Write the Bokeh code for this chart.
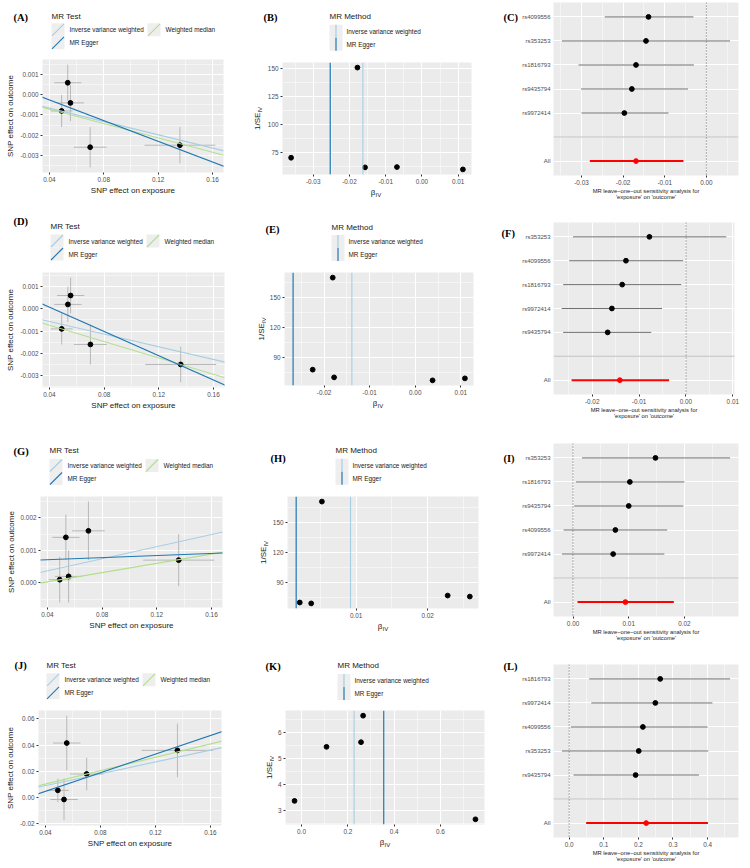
from math import pi

from bokeh.core.properties import value
from bokeh.embed import file_html
from bokeh.layouts import column, row
from bokeh.models import FixedTicker, PrintfTickFormatter, Range1d, Slope, Span
from bokeh.plotting import figure
from bokeh.resources import INLINE

SANS = "Liberation Sans"
SERIF = "Liberation Serif"
IVW_COLOR = "#A6CEE3"
EGGER_COLOR = "#1F78B4"
WM_COLOR = "#B2DF8A"
PANEL_BG = "#EBEBEB"
KEY_BG = "#EEEEEE"
TICK_TEXT = "#4D4D4D"
TITLE_TEXT = "#1A1A1A"
CELL_W = 250
ROW_H = [214, 226, 220, 208]

# ---------------------------------------------------------------- data
# SNP effects on the exposure (shared by all four outcomes)
exposure_beta = [0.049, 0.0535, 0.0555, 0.070, 0.136]
exposure_se = [0.0080, 0.0100, 0.0100, 0.0120, 0.0260]

# Scatter plots: SNP effects on each outcome and fitted MR lines
outcome_A = [-0.0008, 0.0006, -0.0004, -0.0026, -0.0025]
outcome_se_A = [0.0008, 0.0009, 0.0009, 0.0010, 0.0009]
ivw_A, egger_slope_A, egger_icpt_A, wm_slope_A, wm_icpt_A = -0.0165, -0.0257, 0.00078, -0.0178, 0.0

outcome_D = [-0.0009, 0.0002, 0.0006, -0.0016, -0.0025]
outcome_se_D = [0.0007, 0.0008, 0.0008, 0.0009, 0.0008]
ivw_D, egger_slope_D, egger_icpt_D, wm_slope_D, wm_icpt_D = -0.0142, -0.0273, 0.00117, -0.0184, 0.0

outcome_G = [0.0001, 0.0014, 0.0002, 0.0016, 0.0007]
outcome_se_G = [0.0007, 0.0007, 0.0008, 0.0009, 0.0008]
ivw_G, egger_slope_G, egger_icpt_G, wm_slope_G, wm_icpt_G = 0.0093, 0.0016, 0.00065, 0.0071, -0.00025

outcome_J = [0.0054, -0.0016, 0.0416, 0.0179, 0.0360]
outcome_se_J = [0.0090, 0.0159, 0.0209, 0.0125, 0.0205]
ivw_J, egger_slope_J, egger_icpt_J, wm_slope_J, wm_icpt_J = 0.226, 0.356, -0.0096, 0.256, 0.0

# Funnel plots: per-SNP Wald ratio and its precision
beta_iv_B = [-0.0361, -0.0178, -0.0157, -0.0069, 0.0113]
inv_se_B = [70.0, 150.5, 61.4, 61.7, 59.6]
ivw_B, egger_B = -0.0163, -0.0253

beta_iv_E = [-0.0225, -0.0181, -0.0178, 0.0038, 0.0109]
inv_se_E = [78.0, 170.0, 70.3, 67.3, 69.3]
ivw_E, egger_E = -0.0139, -0.0268

beta_iv_H = [0.0021, 0.0037, 0.0052, 0.0228, 0.0259]
inv_se_H = [70.4, 69.5, 170.7, 77.3, 76.3]
ivw_H, egger_H = 0.0092, 0.0016

beta_iv_K = [-0.030, 0.108, 0.257, 0.266, 0.751]
inv_se_K = [3.36, 5.44, 5.62, 6.64, 2.65]
ivw_K, egger_K = 0.227, 0.355

# Leave-one-out analyses (top to bottom)
loo_snp_C = ["rs4099556", "rs353253", "rs1816793", "rs9435794", "rs9972414"]
loo_b_C = [-0.0139, -0.0145, -0.0169, -0.0179, -0.0197]
loo_lo_C = [-0.0244, -0.0347, -0.0307, -0.0301, -0.0300]
loo_hi_C = [-0.0031, 0.0057, -0.0030, -0.0044, -0.0091]
all_C = (-0.0169, -0.0280, -0.0055)

loo_snp_F = ["rs353253", "rs4099556", "rs1816793", "rs9972414", "rs9435794"]
loo_b_F = [-0.0078, -0.0128, -0.0136, -0.0158, -0.0167]
loo_lo_F = [-0.0241, -0.0249, -0.0262, -0.0265, -0.0262]
loo_hi_F = [0.0086, -0.0006, -0.0010, -0.0051, -0.0074]
all_F = (-0.0141, -0.0244, -0.0036)

loo_snp_I = ["rs353253", "rs1816793", "rs9435794", "rs4099556", "rs9972414"]
loo_b_I = [0.0148, 0.0102, 0.0100, 0.0076, 0.0072]
loo_lo_I = [0.0016, 0.0005, 0.0002, -0.0017, -0.0020]
loo_hi_I = [0.0282, 0.0200, 0.0198, 0.0169, 0.0164]
all_I = (0.0094, 0.0008, 0.0181)

loo_snp_L = ["rs1816793", "rs9972414", "rs4099556", "rs353253", "rs9435794"]
loo_b_L = [0.263, 0.249, 0.213, 0.201, 0.192]
loo_lo_L = [0.058, 0.064, 0.005, -0.021, 0.0125]
loo_hi_L = [0.465, 0.414, 0.400, 0.402, 0.375]
all_L = (0.2225, 0.049, 0.401)

# Axis breaks
scatter_x_ticks = [0.04, 0.08, 0.12, 0.16]
scatter_x_minor = [0.06, 0.10, 0.14]
y_ticks_A = [-0.003, -0.002, -0.001, 0.0, 0.001]
y_minor_A = [-0.0035, -0.0025, -0.0015, -0.0005, 0.0005, 0.0015]
y_ticks_G = [0.0, 0.001, 0.002]
y_minor_G = [-0.0005, 0.0005, 0.0015, 0.0025]
y_ticks_J = [-0.02, 0.0, 0.02, 0.04, 0.06]
y_minor_J = [-0.01, 0.01, 0.03, 0.05]

x_ticks_B = [-0.03, -0.02, -0.01, 0.0, 0.01]
x_minor_B = [-0.035, -0.025, -0.015, -0.005, 0.005]
y_ticks_B = [75, 100, 125, 150]
y_minor_B = [62.5, 87.5, 112.5, 137.5]
x_ticks_E = [-0.02, -0.01, 0.0, 0.01]
x_minor_E = [-0.025, -0.015, -0.005, 0.005]
y_ticks_E = [90, 120, 150]
y_minor_E = [75, 105, 135, 165]
x_ticks_H = [0.01, 0.02]
x_minor_H = [0.005, 0.015, 0.025]
x_ticks_K = [0.0, 0.2, 0.4, 0.6]
x_minor_K = [0.1, 0.3, 0.5, 0.7]
y_ticks_K = [3, 4, 5, 6]
y_minor_K = [2.5, 3.5, 4.5, 5.5, 6.5]

x_ticks_C = [-0.03, -0.02, -0.01, 0.0]
x_minor_C = [-0.035, -0.025, -0.015, -0.005, 0.005]
x_ticks_F = [-0.02, -0.01, 0.0, 0.01]
x_minor_F = [-0.025, -0.015, -0.005, 0.005]
x_ticks_I = [0.0, 0.01, 0.02]
x_minor_I = [0.005, 0.015, 0.025]
x_ticks_L = [0.0, 0.1, 0.2, 0.3, 0.4]
x_minor_L = [0.05, 0.15, 0.25, 0.35, 0.45]

MR_TEST_LABELS = ["Inverse variance weighted", "MR Egger", "Weighted median"]
LOO_TITLE = "MR leave\u2212one\u2212out sensitivity analysis for\n'exposure' on 'outcome'"


# ---------------------------------------------------------------- helpers
def expand(lo, hi, mult=0.05):
    span = hi - lo
    return lo - mult * span, hi + mult * span


def make_fig(width, height, frame, x_range, y_range):
    left, top, right, bottom = frame
    p = figure(width=width, height=height, x_range=x_range, y_range=y_range,
               output_backend="svg", toolbar_location=None,
               min_border_left=left, min_border_right=width - right,
               min_border_top=top, min_border_bottom=height - bottom)
    p.background_fill_color = PANEL_BG
    p.border_fill_color = "white"
    p.outline_line_color = None
    return p


def style_axes(p, xt, xm, xfmt, yt, ym, yfmt):
    p.xaxis.ticker = FixedTicker(ticks=xt, minor_ticks=xm)
    p.yaxis.ticker = FixedTicker(ticks=yt, minor_ticks=ym)
    p.xaxis.formatter = PrintfTickFormatter(format=xfmt)
    if yfmt is not None:
        p.yaxis.formatter = PrintfTickFormatter(format=yfmt)
    for ax in p.axis:
        ax.axis_line_color = None
        ax.major_tick_line_color = "#333333"
        ax.major_tick_out = 2
        ax.major_tick_in = 0
        ax.minor_tick_out = 0
        ax.minor_tick_in = 0
        ax.major_label_text_font = SANS
        ax.major_label_text_font_size = "6.4px"
        ax.major_label_text_color = TICK_TEXT
        ax.major_label_standoff = 2
        ax.axis_label_text_font = SANS
        ax.axis_label_text_font_size = "8px"
        ax.axis_label_text_font_style = "normal"
        ax.axis_label_text_color = TITLE_TEXT
        ax.axis_label_standoff = 2
    for g in p.grid:
        g.grid_line_color = "white"
        g.grid_line_width = 1
        g.minor_grid_line_color = "white"
        g.minor_grid_line_width = 0.5


def blank_fig(width, height, y_down=True):
    """A plain white strip used for titles, keys and panel tags (pixel coordinates)."""
    yr = Range1d(height, 0) if y_down else Range1d(0, height)
    p = figure(width=width, height=height, x_range=Range1d(0, width), y_range=yr,
               output_backend="svg", toolbar_location=None, min_border=0,
               x_axis_type=None, y_axis_type=None)
    p.outline_line_color = None
    p.background_fill_color = "white"
    p.border_fill_color = "white"
    return p


def put_text(p, x, y, text, size, font=SANS, style="normal", angle=0.0, color=TITLE_TEXT):
    p.text(x=[x], y=[y], text=[text], text_font=value(font), text_font_style=style,
           text_font_size=value(size), text_color=color, angle=angle,
           text_baseline="middle", text_align="left")


def legend_fig(height, tag, tag_x, tag_y, title, left, title_y, entries, kind, text_dx):
    p = blank_fig(CELL_W, height)
    kx = [e[0] for e in entries]
    ky = [e[1] for e in entries]
    cols = [e[2] for e in entries]
    labs = [e[3] for e in entries]
    p.rect(x=[x + 6.5 for x in kx], y=ky, width=13, height=13, fill_color=KEY_BG, line_color=None)
    if kind == "diag":
        p.segment(x0=[x + 0.5 for x in kx], y0=[y + 6 for y in ky],
                  x1=[x + 12.5 for x in kx], y1=[y - 6 for y in ky],
                  line_color=cols, line_width=1.1)
    else:
        p.segment(x0=[x + 6.5 for x in kx], y0=[y + 6.5 for y in ky],
                  x1=[x + 6.5 for x in kx], y1=[y - 6.5 for y in ky],
                  line_color=cols, line_width=1.2)
    p.text(x=[x + text_dx for x in kx], y=ky, text=labs, text_font=value(SANS),
           text_font_size=value("6.4px"), text_color=TITLE_TEXT,
           text_baseline="middle", text_align="left")
    put_text(p, left, title_y, title, "8px")
    put_text(p, tag_x, tag_y, tag, "10.5px", font=SERIF, style="bold", color="black")
    # wrapped so that the layout does not line its frame up with the plot below
    return row(p)


def scatter_panel(cell_h, frame, tag, tag_xy, leg_left, title_y, key_y,
                  out, out_se, ivw, eg_s, eg_i, wm_s, wm_i, yt, ym, yfmt):
    left, top, right, bottom = frame
    lh = top - 4
    entries = [(leg_left, key_y, IVW_COLOR, MR_TEST_LABELS[0]),
               (leg_left, key_y + 13, EGGER_COLOR, MR_TEST_LABELS[1]),
               (leg_left + 96, key_y, WM_COLOR, MR_TEST_LABELS[2])]
    lp = legend_fig(lh, tag, tag_xy[0], tag_xy[1], "MR Test", leg_left, title_y,
                    entries, "diag", 18)

    x0 = [b - s for b, s in zip(exposure_beta, exposure_se)]
    x1 = [b + s for b, s in zip(exposure_beta, exposure_se)]
    y0 = [b - s for b, s in zip(out, out_se)]
    y1 = [b + s for b, s in zip(out, out_se)]
    xr = Range1d(*expand(min(x0), max(x1)))
    yr = Range1d(*expand(min(y0), max(y1)))
    h = cell_h - lh
    p = make_fig(CELL_W, h, (left, 4, right, bottom - lh), xr, yr)
    style_axes(p, scatter_x_ticks, scatter_x_minor, "%.2f", yt, ym, yfmt)
    p.segment(x0=x0, x1=x1, y0=out, y1=out, line_color="#B8B8B8", line_width=1)
    p.segment(x0=exposure_beta, x1=exposure_beta, y0=y0, y1=y1, line_color="#B8B8B8", line_width=1)
    p.scatter(exposure_beta, out, size=4.8, color="black")
    p.add_layout(Slope(gradient=ivw, y_intercept=0.0, line_color=IVW_COLOR, line_width=1.1))
    p.add_layout(Slope(gradient=wm_s, y_intercept=wm_i, line_color=WM_COLOR, line_width=1.1))
    p.add_layout(Slope(gradient=eg_s, y_intercept=eg_i, line_color=EGGER_COLOR, line_width=1.1))
    p.xaxis.axis_label = "SNP effect on exposure"
    p.yaxis.axis_label = "SNP effect on outcome"
    p.xaxis.axis_label_standoff = 1
    return column(lp, p)


def funnel_panel(cell_h, frame, tag, tag_xy, leg_left, title_y, key_y,
                 b, inv, ivw, egger, xt, xm, xfmt, yt, ym, ytitle_x, yw):
    left, top, right, bottom = frame
    lh = top - 4
    entries = [(leg_left, key_y, IVW_COLOR, MR_TEST_LABELS[0]),
               (leg_left, key_y + 13, EGGER_COLOR, MR_TEST_LABELS[1])]
    lp = legend_fig(lh, tag, tag_xy[0], tag_xy[1], "MR Method", leg_left, title_y,
                    entries, "vert", 17)
    xr = Range1d(*expand(min(b + [ivw, egger]), max(b + [ivw, egger])))
    yr = Range1d(*expand(min(inv), max(inv)))

    xt_top = bottom + 12          # where the x-title strip begins
    ph = xt_top - lh
    pw = CELL_W - yw
    p = make_fig(pw, ph, (left - yw, 4, right - yw, bottom - lh), xr, yr)
    style_axes(p, xt, xm, xfmt, yt, ym, "%d")
    p.scatter(b, inv, size=4.8, color="black")
    p.add_layout(Span(location=ivw, dimension="height", line_color=IVW_COLOR, line_width=1.1))
    p.add_layout(Span(location=egger, dimension="height", line_color=EGGER_COLOR, line_width=1.2))

    # y title: 1/SE with IV subscript, reading upwards
    yt_fig = blank_fig(yw, ph, y_down=False)
    sy = xt_top - ((top + bottom) / 2 + 11.5)
    put_text(yt_fig, left + ytitle_x, sy, "1/SE", "8px", angle=pi / 2)
    put_text(yt_fig, left + ytitle_x + 2.5, sy + 17.4, "IV", "6px", angle=pi / 2)

    # x title: beta with IV subscript
    xt_fig = blank_fig(CELL_W, cell_h - xt_top)
    sx = (left + right) / 2 - 5.2
    put_text(xt_fig, sx, bottom + 18 - xt_top, "\u03b2", "8px")
    put_text(xt_fig, sx + 4.8, bottom + 20.5 - xt_top, "IV", "6px")

    return column(lp, row(column(yt_fig), p), row(xt_fig))


def forest_panel(cell_h, frame, tag, tag_xy, snps, b, lo, hi, overall, xt, xm, xfmt):
    left, top, right, bottom = frame
    tw = 19
    labels = ["All", ""] + list(reversed(snps))
    pos = list(range(1, len(labels) + 1))
    snp_y = [pos[labels.index(s)] for s in snps]
    all_y = pos[labels.index("All")]
    blank_y = pos[labels.index("")]
    xr = Range1d(*expand(min(lo + [overall[1], 0.0]), max(hi + [overall[2], 0.0])))
    yr = Range1d(pos[0] - 0.6, pos[-1] + 0.6)
    p = make_fig(CELL_W - tw, cell_h, (left - tw, top, right - tw, bottom), xr, yr)
    style_axes(p, xt, xm, xfmt, pos, [], None)
    p.yaxis.major_label_overrides = {k: v for k, v in zip(pos, labels)}
    p.yaxis.major_tick_out = 0
    p.yaxis.major_label_standoff = 3
    p.yaxis.major_label_text_font_size = "6px"
    p.add_layout(Span(location=blank_y, dimension="width", line_color="#BEBEBE", line_width=1))
    p.add_layout(Span(location=0.0, dimension="height", line_color="#444444",
                      line_width=0.9, line_dash="1 2"))
    p.segment(x0=lo, x1=hi, y0=snp_y, y1=snp_y, line_color="#707070", line_width=1)
    p.scatter(b, snp_y, size=4.8, color="black")
    p.segment(x0=[overall[1]], x1=[overall[2]], y0=[all_y], y1=[all_y],
              line_color="#FF0000", line_width=2)
    p.scatter([overall[0]], [all_y], size=4.8, color="#FF0000")
    p.xaxis.axis_label = LOO_TITLE
    p.xaxis.axis_label_text_font_size = "5.8px"
    p.xaxis.axis_label_standoff = 0
    p.xaxis.axis_label_text_line_height = 1.05

    tag_fig = blank_fig(tw, cell_h)
    put_text(tag_fig, tag_xy[0], tag_xy[1], tag, "10.5px", font=SERIF, style="bold", color="black")
    return row(column(tag_fig), p)


# ---------------------------------------------------------------- panels
A = scatter_panel(ROW_H[0], (42, 59, 223, 172), "(A)", (13, 17), 51, 15.7, 29.3,
                  outcome_A, outcome_se_A, ivw_A, egger_slope_A, egger_icpt_A,
                  wm_slope_A, wm_icpt_A, y_ticks_A, y_minor_A, "%.3f")
B = funnel_panel(ROW_H[0], (30, 62, 221, 174), "(B)", (13, 16.7), 79, 15.7, 30.7,
                 beta_iv_B, inv_se_B, ivw_B, egger_B, x_ticks_B, x_minor_B, "%.2f",
                 y_ticks_B, y_minor_B, -23, 14)
C = forest_panel(ROW_H[0], (52, 2, 238, 175), "(C)", (3, 17),
                 loo_snp_C, loo_b_C, loo_lo_C, loo_hi_C, all_C, x_ticks_C, x_minor_C, "%.2f")

D = scatter_panel(ROW_H[1], (42, 58, 224, 173), "(D)", (13, 7), 50, 12, 26.5,
                  outcome_D, outcome_se_D, ivw_D, egger_slope_D, egger_icpt_D,
                  wm_slope_D, wm_icpt_D, y_ticks_A, y_minor_A, "%.3f")
E = funnel_panel(ROW_H[1], (32, 58, 223, 171), "(E)", (15, 14.7), 81, 13, 27,
                 beta_iv_E, inv_se_E, ivw_E, egger_E, x_ticks_E, x_minor_E, "%.2f",
                 y_ticks_E, y_minor_E, -21, 16)
F = forest_panel(ROW_H[1], (52, 8, 234, 180), "(F)", (1, 18.7),
                 loo_snp_F, loo_b_F, loo_lo_F, loo_hi_F, all_F, x_ticks_F, x_minor_F, "%.2f")

G = scatter_panel(ROW_H[2], (40, 56, 222, 167), "(G)", (13, 10.7), 49, 9.7, 25,
                  outcome_G, outcome_se_G, ivw_G, egger_slope_G, egger_icpt_G,
                  wm_slope_G, wm_icpt_G, y_ticks_G, y_minor_G, "%.3f")
H = funnel_panel(ROW_H[2], (37, 56, 228, 168), "(H)", (20, 18), 85, 9.7, 24.7,
                 beta_iv_H, inv_se_H, ivw_H, egger_H, x_ticks_H, x_minor_H, "%.2f",
                 y_ticks_E, y_minor_E, -24, 19)
I = forest_panel(ROW_H[2], (52, 3, 238, 176), "(I)", (3, 17.7),
                 loo_snp_I, loo_b_I, loo_lo_I, loo_hi_I, all_I, x_ticks_I, x_minor_I, "%.2f")

J = scatter_panel(ROW_H[3], (38, 50, 221, 165), "(J)", (14, 4.8), 46, 5.3, 19.3,
                  outcome_J, outcome_se_J, ivw_J, egger_slope_J, egger_icpt_J,
                  wm_slope_J, wm_icpt_J, y_ticks_J, y_minor_J, "%.2f")
K = funnel_panel(ROW_H[3], (35, 50, 234, 164), "(K)", (15, 6), 87, 5, 20,
                 beta_iv_K, inv_se_K, ivw_K, egger_K, x_ticks_K, x_minor_K, "%.1f",
                 y_ticks_K, y_minor_K, -16, 24)
L = forest_panel(ROW_H[3], (52, 4, 238, 177), "(L)", (3, 6),
                 loo_snp_L, loo_b_L, loo_lo_L, loo_hi_L, all_L, x_ticks_L, x_minor_L, "%.1f")

layout = column(row(A, B, C), row(D, E, F), row(G, H, I), row(J, K, L))

open("out.html", "w").write(file_html(layout, INLINE))
